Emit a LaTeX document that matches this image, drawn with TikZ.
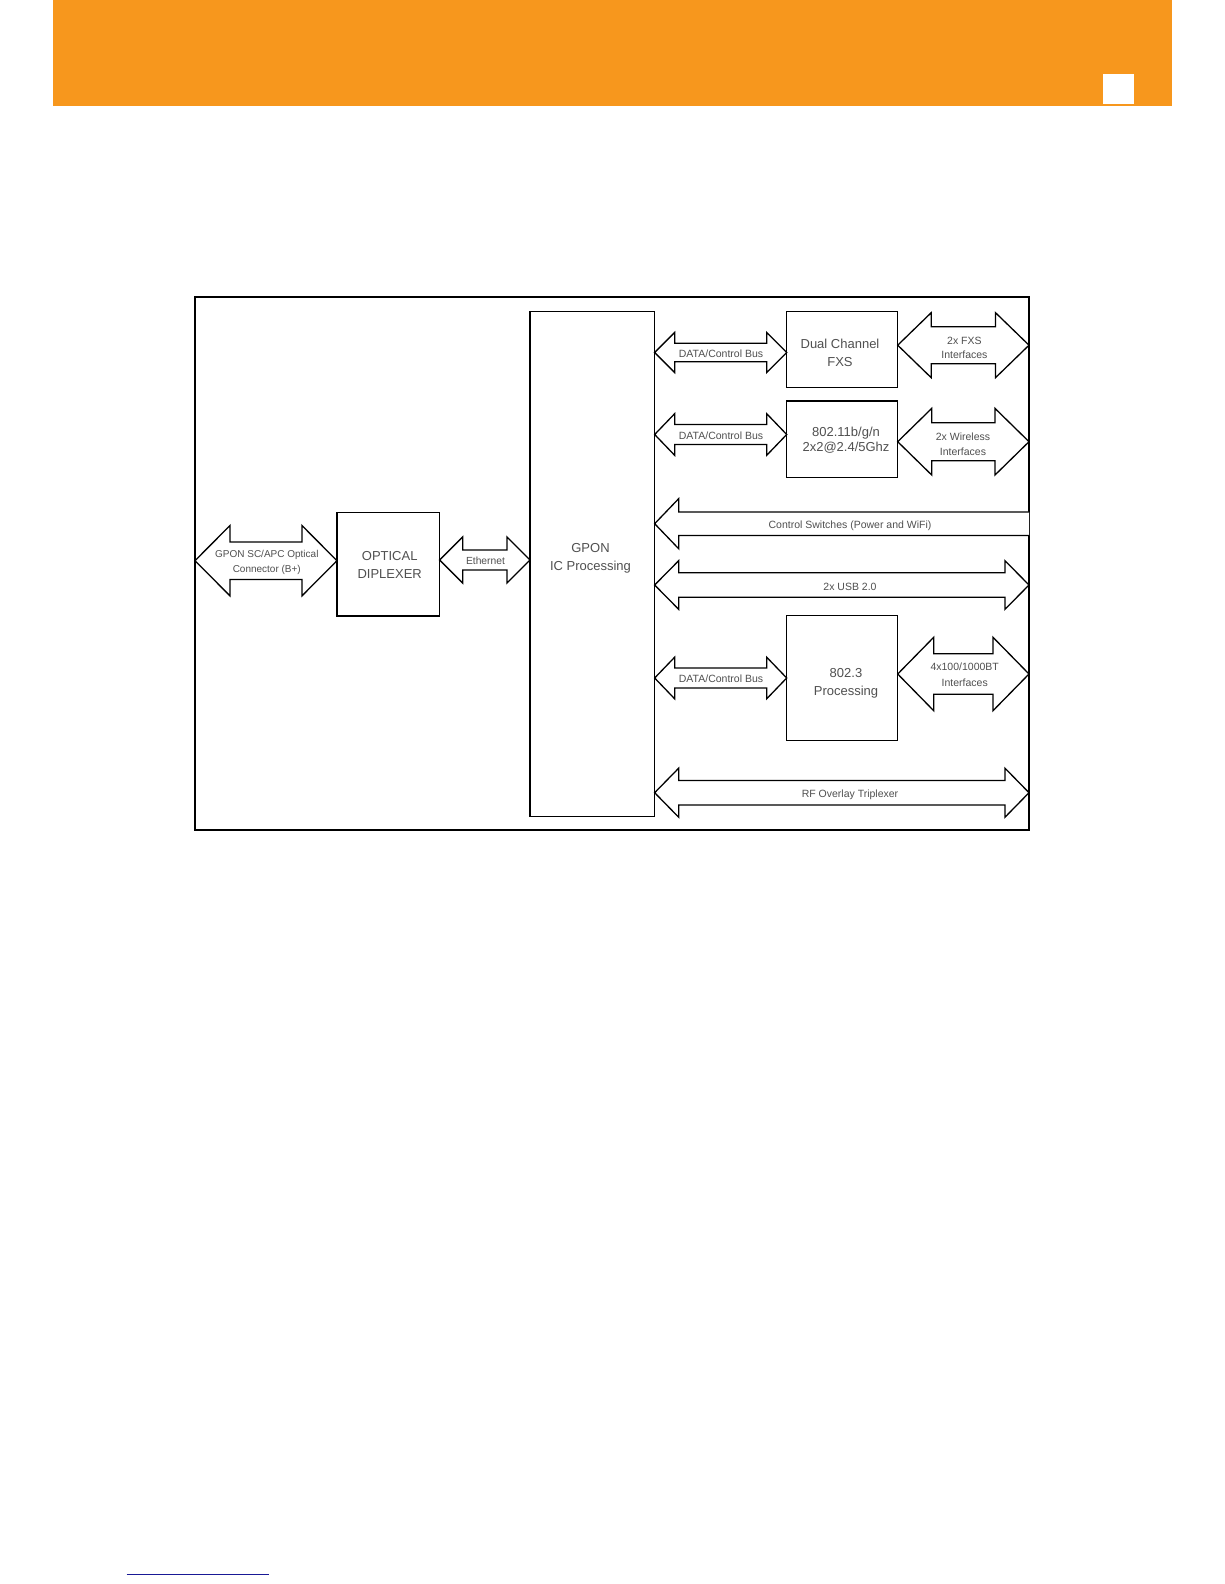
\documentclass[tikz,border=0pt]{standalone}
\usepackage{fontspec}
\setmainfont{Liberation Sans}
\usetikzlibrary{calc}
\definecolor{hdr}{RGB}{247,151,29}
\definecolor{txtgray}{RGB}{80,80,80}
\definecolor{lnk}{RGB}{25,25,150}
\tikzset{
  box/.style={draw=black, line width=1.5pt, fill=white, inner sep=0pt, outer sep=0pt},
  arr/.style={draw=black, line width=1.3pt, fill=white, line join=miter},
  lab/.style={text=txtgray, inner sep=0pt, text height=0.72em, text depth=0pt, yshift=-1.5pt},
  small/.style={lab, font=\fontsize{10.5}{14}\selectfont},
  big/.style={lab, font=\fontsize{13}{18}\selectfont},
}
% #1 left point, #2 right point, #3 centre y, #4 shaft half height, #5 head half height, #6 head length
\newcommand\DArrow[6]{%
  \draw[arr] let \p1=(#1), \p2=(#2) in
    (\x1,-#3pt) -- ({\x1+#6pt},{-#3pt+#5pt}) -- ({\x1+#6pt},{-#3pt+#4pt})
    -- ({\x2-#6pt},{-#3pt+#4pt}) -- ({\x2-#6pt},{-#3pt+#5pt}) -- (\x2,-#3pt)
    -- ({\x2-#6pt},{-#3pt-#5pt}) -- ({\x2-#6pt},{-#3pt-#4pt})
    -- ({\x1+#6pt},{-#3pt-#4pt}) -- ({\x1+#6pt},{-#3pt-#5pt}) -- cycle;}
% one-sided arrow pointing left, open at the right end
\newcommand\LArrow[6]{%
  \draw[arr] let \p1=(#1), \p2=(#2) in
    (\x2,{-#3pt+#4pt}) -- ({\x1+#6pt},{-#3pt+#4pt}) -- ({\x1+#6pt},{-#3pt+#5pt})
    -- (\x1,-#3pt) -- ({\x1+#6pt},{-#3pt-#5pt}) -- ({\x1+#6pt},{-#3pt-#4pt})
    -- (\x2,{-#3pt-#4pt});}
\begin{document}
\begin{tikzpicture}[x=1pt, y=-1pt]
\useasboundingbox (0,0) rectangle (1224,1584);
% header band
\fill[hdr] (52.5,0) rectangle (1171.7,105.7);
\fill[white] (1102.7,74) rectangle (1134,104.3);
% footer link underline
\draw[lnk, line width=1.3pt] (126.7,1574.5) -- (269,1574.5);

% frame and blocks
\node[box, minimum width=834pt, minimum height=533pt] (frame) at (612,563.5) {};
\node[box, minimum width=124.7pt, minimum height=505pt] (gpon) at (592.3,564.2) {};
\node[box, minimum width=102.7pt, minimum height=103.3pt] (dip) at (388.3,564.3) {};
\node[box, minimum width=111pt, minimum height=76pt] (fxs) at (842.2,349.7) {};
\node[box, minimum width=111pt, minimum height=76.3pt] (wifi) at (842.2,439.2) {};
\node[box, minimum width=111pt, minimum height=125pt] (eth) at (842.2,678.2) {};

% connectors
\DArrow{frame.west}{dip.west}{560.7}{18.7}{35.2}{35}
\DArrow{dip.east}{gpon.west}{560}{10}{23}{23}
\DArrow{gpon.east}{fxs.west}{352.5}{9.2}{20}{20}
\DArrow{gpon.east}{wifi.west}{434.5}{10}{20.8}{20}
\DArrow{gpon.east}{eth.west}{678}{10}{20.8}{20}
\DArrow{fxs.east}{frame.east}{345.2}{18.5}{32.5}{33.5}
\DArrow{wifi.east}{frame.east}{441.7}{19}{33.3}{34}
\DArrow{eth.east}{frame.east}{674}{20.3}{36.7}{36}
\LArrow{gpon.east}{frame.east}{523.7}{11.8}{25}{24}
\DArrow{gpon.east}{frame.east}{585}{12.3}{24.3}{24}
\DArrow{gpon.east}{frame.east}{792.7}{12.2}{24.5}{24}

% labels
\node[small, font=\fontsize{10}{14}\selectfont] (lconna) at (266.8,552.7) {GPON SC/APC Optical};
\node[small, font=\fontsize{10}{14}\selectfont] (lconnb) at (266.8,567.3) {Connector (B+)};
\node[big] (ldipa) at (389.7,555.7) {OPTICAL};
\node[big] (ldipb) at (389.7,573) {DIPLEXER};
\node[small, font=\fontsize{10.3}{14}\selectfont] (leth) at (485.5,559.3) {Ethernet};
\node[big] (lgpona) at (590.5,547.3) {GPON};
\node[big] (lgponb) at (590.5,565.3) {IC Processing};
\node[small] (lbus1) at (721,352.3) {DATA/Control Bus};
\node[small] (lbus2) at (721,434.5) {DATA/Control Bus};
\node[small] (lbus3) at (721,677.7) {DATA/Control Bus};
\node[big] (lfxsa) at (840,343.3) {Dual Channel};
\node[big] (lfxsb) at (840,361.7) {FXS};
\node[big] (lwifia) at (846,431.7) {802.11b/g/n};
\node[big] (lwifib) at (846,446.7) {2x2@2.4/5Ghz};
\node[big] (letha) at (846,672.3) {802.3};
\node[big] (lethb) at (846,690) {Processing};
\node[small] (lfxsifa) at (964.4,339.3) {2x FXS};
\node[small] (lfxsifb) at (964.4,353.3) {Interfaces};
\node[small] (lwifiifa) at (963,435.7) {2x Wireless};
\node[small] (lwifiifb) at (963,450) {Interfaces};
\node[small] (lethifa) at (964.7,665) {4x100/1000BT};
\node[small] (lethifb) at (964.7,681.7) {Interfaces};
\node[small] (lctl) at (850,523.7) {Control Switches (Power and WiFi)};
\node[small] (lusb) at (850,585) {2x USB 2.0};
\node[small] (lrf) at (850,792.3) {RF Overlay Triplexer};
\end{tikzpicture}
\end{document}
